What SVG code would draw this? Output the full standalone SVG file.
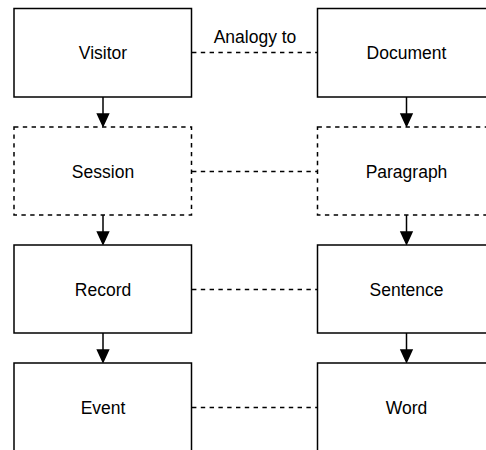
<svg xmlns="http://www.w3.org/2000/svg" width="486" height="450" viewBox="0 0 486 450">
  <style>
    .box { fill: #ffffff; stroke: #000000; stroke-width: 1.5; }
    .dashed { stroke-dasharray: 4.4 4.4; }
    .label { font-family: "Liberation Sans", Arial, sans-serif; font-size: 17.5px; fill: #000000; text-anchor: middle; }
    .link { fill: none; stroke: #000000; stroke-width: 1.5; stroke-dasharray: 4.4 4.4; }
    .flow { fill: none; stroke: #000000; stroke-width: 1.5; }
    .head { fill: #000000; stroke: #000000; stroke-width: 1.5; }
  </style>
  <rect width="486" height="450" fill="#ffffff"/>

  <!-- connectors -->
  <g id="connectors">
    <!-- analogy links -->
    <line class="link" x1="192" y1="52.5" x2="317.5" y2="52.5"/>
    <line class="link" x1="192" y1="171.5" x2="317.5" y2="171.5"/>
    <line class="link" x1="192" y1="289.5" x2="317.5" y2="289.5"/>
    <line class="link" x1="192" y1="407.5" x2="317.5" y2="407.5"/>
    <text class="label" x="255" y="42.5">Analogy to</text>

    <!-- left column flow -->
    <line class="flow" x1="103" y1="97" x2="103" y2="114"/>
    <path class="head" d="M97.5 114 L108.5 114 L103 126 Z"/>
    <line class="flow" x1="103" y1="215" x2="103" y2="232"/>
    <path class="head" d="M97.5 232 L108.5 232 L103 244 Z"/>
    <line class="flow" x1="103" y1="333" x2="103" y2="350"/>
    <path class="head" d="M97.5 350 L108.5 350 L103 362 Z"/>

    <!-- right column flow -->
    <line class="flow" x1="406.5" y1="97" x2="406.5" y2="114"/>
    <path class="head" d="M401 114 L412 114 L406.5 126 Z"/>
    <line class="flow" x1="406.5" y1="215" x2="406.5" y2="232"/>
    <path class="head" d="M401 232 L412 232 L406.5 244 Z"/>
    <line class="flow" x1="406.5" y1="333" x2="406.5" y2="350"/>
    <path class="head" d="M401 350 L412 350 L406.5 362 Z"/>
  </g>

  <!-- left column -->
  <g id="visitor">
    <rect class="box" x="14" y="8.5" width="177.5" height="88.5"/>
    <text class="label" x="103" y="59">Visitor</text>
  </g>
  <g id="session">
    <rect class="box dashed" x="14" y="127" width="177.5" height="88"/>
    <text class="label" x="103" y="178">Session</text>
  </g>
  <g id="record">
    <rect class="box" x="14" y="245" width="177.5" height="88"/>
    <text class="label" x="103" y="296">Record</text>
  </g>
  <g id="event">
    <rect class="box" x="14" y="363" width="177.5" height="100"/>
    <text class="label" x="103" y="414">Event</text>
  </g>

  <!-- right column -->
  <g id="document">
    <rect class="box" x="317.5" y="8.5" width="177.5" height="88.5"/>
    <text class="label" x="406.5" y="59">Document</text>
  </g>
  <g id="paragraph">
    <rect class="box dashed" x="317.5" y="127" width="177.5" height="88"/>
    <text class="label" x="406.5" y="178">Paragraph</text>
  </g>
  <g id="sentence">
    <rect class="box" x="317.5" y="245" width="177.5" height="88"/>
    <text class="label" x="406.5" y="296">Sentence</text>
  </g>
  <g id="word">
    <rect class="box" x="317.5" y="363" width="177.5" height="100"/>
    <text class="label" x="406.5" y="414">Word</text>
  </g>
</svg>
